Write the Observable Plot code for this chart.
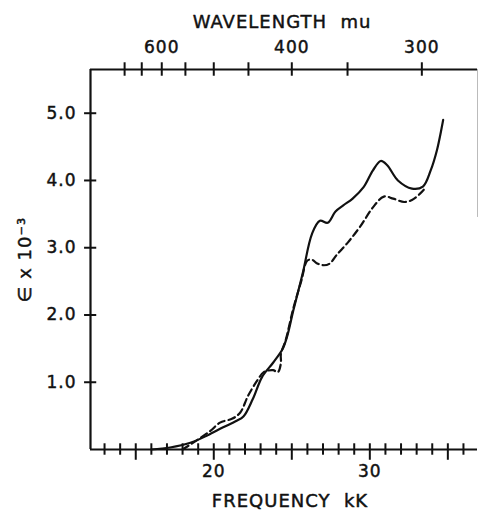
<!DOCTYPE html>
<html>
<head>
<meta charset="utf-8">
<script src="https://cdn.jsdelivr.net/npm/d3@7"></script>
<script src="https://cdn.jsdelivr.net/npm/@observablehq/plot@0.6"></script>
<style>
  html, body { margin: 0; padding: 0; background: #fff; }
</style>
</head>
<body>
<div id="chart"></div>
<script>
// Solid curve: frequency (kK) vs epsilon x 10^-3
const solidFreq = [16.0, 17.2, 18.5, 19.6, 20.6, 21.4, 21.9, 22.5, 23.1, 23.8, 24.4, 24.7, 25.1, 25.7, 26.3, 26.8, 27.3, 27.8, 28.3, 28.9, 29.6, 30.2, 30.7, 31.1, 31.8, 32.7, 33.4, 33.9, 34.3, 34.7];
const solidEps  = [0.0, 0.03, 0.10, 0.21, 0.33, 0.42, 0.49, 0.75, 1.08, 1.29, 1.49, 1.68, 2.07, 2.62, 3.21, 3.40, 3.37, 3.54, 3.63, 3.73, 3.90, 4.15, 4.29, 4.23, 4.00, 3.88, 3.91, 4.15, 4.45, 4.90];

// Dashed curve
const dashFreq = [18.0, 19.0, 19.8, 20.4, 21.2, 21.7, 22.2, 22.8, 23.2, 23.8, 24.1, 24.3, 24.3, 24.6, 25.1, 25.6, 26.0, 26.3, 26.6, 27.0, 27.4, 27.9, 28.6, 29.4, 30.2, 30.9, 31.5, 32.2, 32.7, 33.2, 33.6];
const dashEps  = [0.0, 0.15, 0.28, 0.40, 0.46, 0.55, 0.80, 1.03, 1.15, 1.18, 1.15, 1.28, 1.42, 1.62, 2.10, 2.50, 2.81, 2.82, 2.77, 2.74, 2.76, 2.90, 3.08, 3.32, 3.60, 3.76, 3.73, 3.68, 3.71, 3.80, 3.90];

// Axes ticks
const freqMinor = [13,14,16,17,18,19,21,22,23,24,26,27,28,29,31,32,33,34,36];
const freqMajor = [15,20,25,30,35];
const freqLabels = [20, 30];
const waveTicks = [700, 650, 600, 550, 500, 450, 400, 350, 300];
const waveLabels = [600, 400, 300];
const epsTicks = [1, 2, 3, 4, 5];

const xMin = 12.1, xMax = 36.9, yMin = 0, yMax = 5.65;

const solid = solidFreq.map((f, i) => ({f, e: solidEps[i]}));
const dashed = dashFreq.map((f, i) => ({f, e: dashEps[i]}));

const ink = "#111";
const txt = {fontSize: 17, fill: ink, stroke: ink, strokeWidth: 0.45};
const chart = Plot.plot({
  width: 479,
  height: 510,
  marginLeft: 90,
  marginRight: 2,
  marginTop: 69,
  marginBottom: 61,
  x: {domain: [xMin, xMax], axis: null},
  y: {domain: [yMin, yMax], axis: null},
  style: {fontFamily: "DejaVu Sans", fontSize: "17px", background: "#fff", color: ink, letterSpacing: "1px"},
  marks: [
    // frame lines
    Plot.ruleY([yMin], {x1: xMin, x2: xMax, stroke: ink, strokeWidth: 2.2}),
    Plot.ruleY([yMax], {x1: xMin, x2: xMax, stroke: ink, strokeWidth: 2.2}),
    Plot.ruleX([xMin], {y1: yMin, y2: yMax, stroke: ink, strokeWidth: 2.2}),
    Plot.ruleX([xMax], {y1: 3.45, y2: yMax, stroke: "#bbb", strokeWidth: 1}),
    // bottom ticks (crossing)
    Plot.ruleX(freqMinor, {x: d => d, y1: -0.085, y2: 0.085, stroke: ink, strokeWidth: 2}),
    Plot.ruleX(freqMajor, {x: d => d, y1: -0.16, y2: 0.085, stroke: ink, strokeWidth: 2}),
    // top ticks: wavelength nm -> kK
    Plot.ruleX(waveTicks, {x: d => 1e4 / d, y1: yMax - 0.1, y2: yMax + 0.1, stroke: ink, strokeWidth: 2}),
    // left ticks
    Plot.ruleY(epsTicks, {y: d => d, x1: xMin - 0.38, x2: xMin + 0.4, stroke: ink, strokeWidth: 2}),
    // tick labels
    Plot.text(freqLabels, {x: d => d, y: yMin, dy: 22, text: d => String(d), ...txt}),
    Plot.text(waveLabels, {x: d => 1e4 / d, y: yMax, dy: -21.5, text: d => String(d), ...txt}),
    Plot.text(epsTicks, {x: xMin, y: d => d, dx: -14, textAnchor: "end", text: d => d.toFixed(1), ...txt}),
    // axis titles
    Plot.text(["WAVELENGTH  mu"], {frameAnchor: "top", lineAnchor: "middle", textAnchor: "middle", dx: -2, dy: -47.5, text: d => d, ...txt, fontSize: 18}),
    Plot.text(["FREQUENCY  kK"], {frameAnchor: "bottom", lineAnchor: "middle", textAnchor: "middle", dx: 6, dy: 52, text: d => d, ...txt, fontSize: 18}),
    Plot.text(["∈ x 10⁻³"], {frameAnchor: "left", lineAnchor: "middle", textAnchor: "middle", dx: -65, dy: 0, rotate: -90, text: d => d, ...txt, fontSize: 18}),
    // curves
    Plot.line(dashed, {x: "f", y: "e", curve: "catmull-rom", stroke: ink, strokeWidth: 2.2, strokeDasharray: "7,4"}),
    Plot.line(solid, {x: "f", y: "e", curve: "catmull-rom", stroke: ink, strokeWidth: 2.2})
  ]
});
document.getElementById("chart").appendChild(chart);
</script>
</body>
</html>
